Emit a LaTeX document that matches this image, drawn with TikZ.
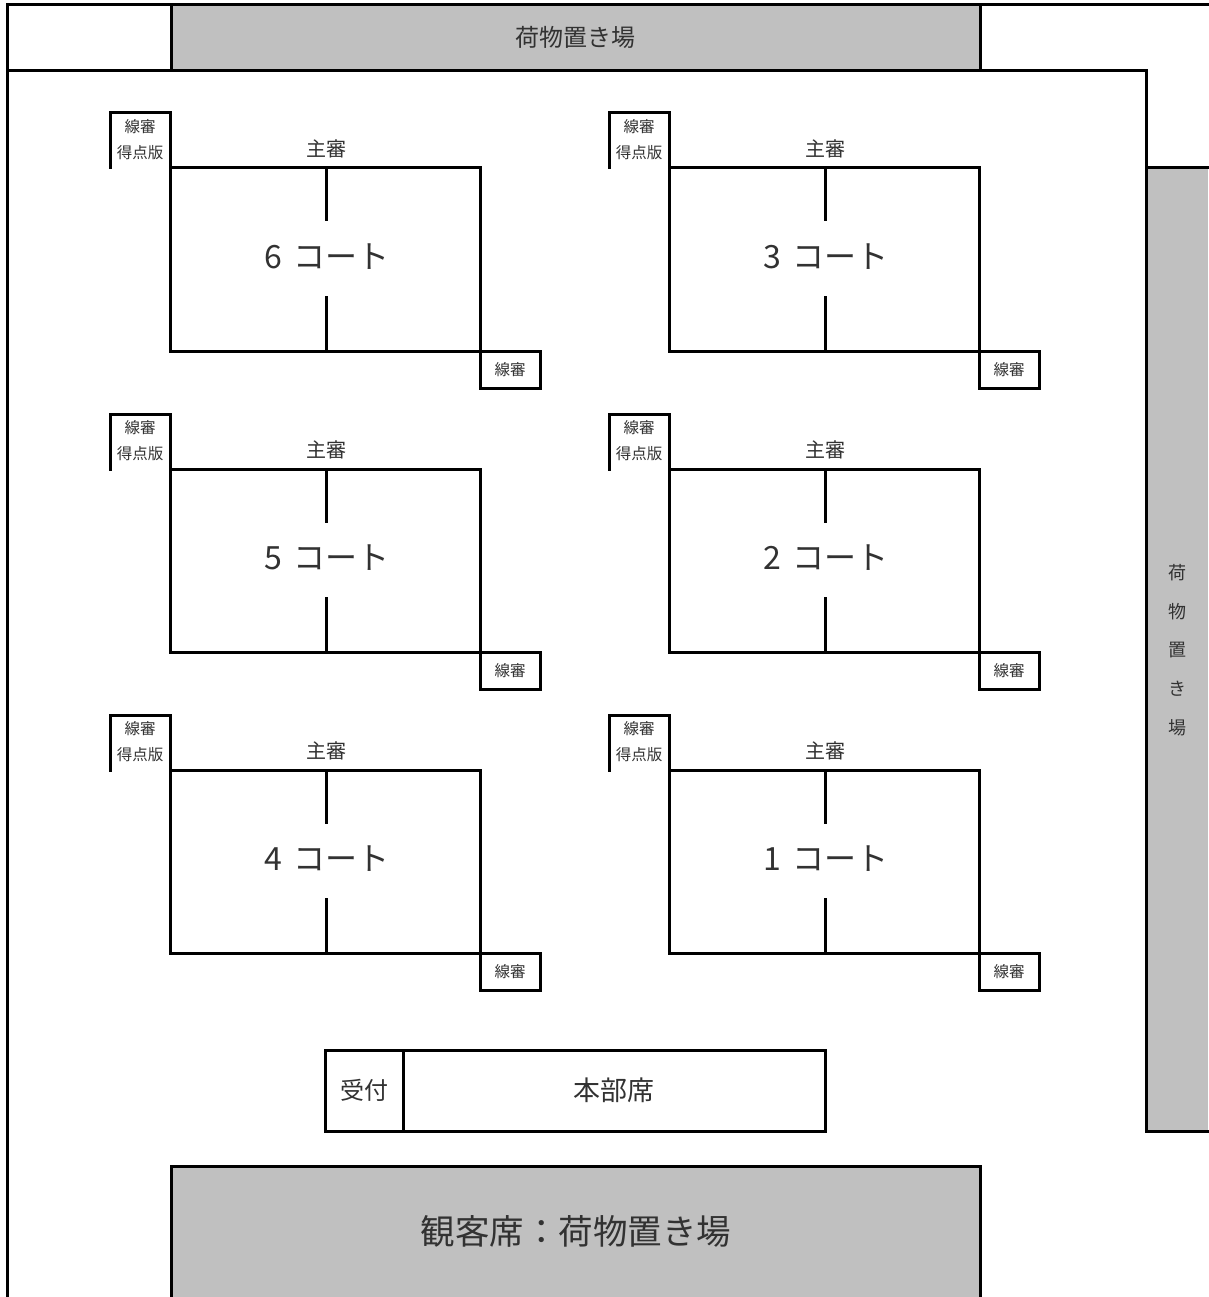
\documentclass[tikz,border=0pt]{standalone}
\usepackage{fontspec}
\setmainfont{Noto Sans CJK JP}
\definecolor{storage}{RGB}{192,192,192}
\definecolor{txt}{RGB}{50,50,50}
\tikzset{
  wall/.style={line width=3pt, line cap=rect, line join=miter},
  lbl/.style={inner sep=0pt, text=txt},
  tiny/.style={lbl, font=\fontsize{15.5}{15.5}\selectfont},
  mid/.style={lbl, font=\fontsize{20}{20}\selectfont},
  big/.style={lbl, font=\fontsize{24}{24}\selectfont},
  huge/.style={lbl, font=\fontsize{32}{32}\selectfont},
}
\begin{document}
\begin{tikzpicture}[x=1pt,y=-1pt]
\useasboundingbox[fill=white] (0,0) rectangle (1208,1297);
% storage areas
\fill[storage] (171,5) rectangle (980,71);
\fill[storage] (1146,168) rectangle (1208,1131);
\fill[storage] (171,1166) rectangle (980,1297);
% walls
\draw[wall] (1208,5) -- (7,5) -- (7,1297);
\draw[wall] (171,5) -- (171,71);
\draw[wall] (980,5) -- (980,71);
\draw[wall] (7,71) -- (1146,71) -- (1146,1131) -- (1208,1131);
\draw[wall] (1146,168) -- (1208,168);
\draw[wall] (171,1297) -- (171,1166) -- (980,1166) -- (980,1297);
% storage labels
\node[big] (topstore) at (575.5,37) {荷物置き場};
\node[lbl, font=\fontsize{18}{38.7}\selectfont, align=center] (rightstore) at (1177,650) {荷\\物\\置\\き\\場};
\node[lbl, font=\fontsize{34.5}{34.5}\selectfont] (audience) at (576,1231) {観客席：荷物置き場};
% courts
\foreach \ox/\oy/\n in {170/168/6, 669/168/3, 170/469/5, 669/469/2, 170/770/4, 669/770/1}{
  \draw[wall] (\ox,\oy) -- (\ox,\oy-55) -- (\ox-60,\oy-55) -- (\ox-60,\oy);
  \draw[wall] (\ox,\oy) rectangle (\ox+310,\oy+183);
  \draw[wall] (\ox+310,\oy+183) rectangle (\ox+370,\oy+220);
  \draw[wall] (\ox+156,\oy) -- (\ox+156,\oy+52);
  \draw[wall] (\ox+156,\oy+129) -- (\ox+156,\oy+183);
  \node[tiny] (lj\n) at (\ox-30,\oy-41) {線審};
  \node[tiny] (sb\n) at (\ox-30,\oy-15) {得点版};
  \node[mid] (uj\n) at (\ox+156,\oy-19) {主審};
  \node[huge] (ct\n) at (\ox+157,\oy+89) {\n\hspace{4pt}\ コート};
  \node[tiny] (lb\n) at (\ox+340,\oy+201.5) {線審};
}
% headquarters
\draw[wall] (325,1050) rectangle (825,1131);
\draw[wall] (403,1050) -- (403,1131);
\node[big] (reception) at (364,1090) {受付};
\node[lbl, font=\fontsize{27}{27}\selectfont] (hq) at (614,1090) {本部席};
\end{tikzpicture}
\end{document}
